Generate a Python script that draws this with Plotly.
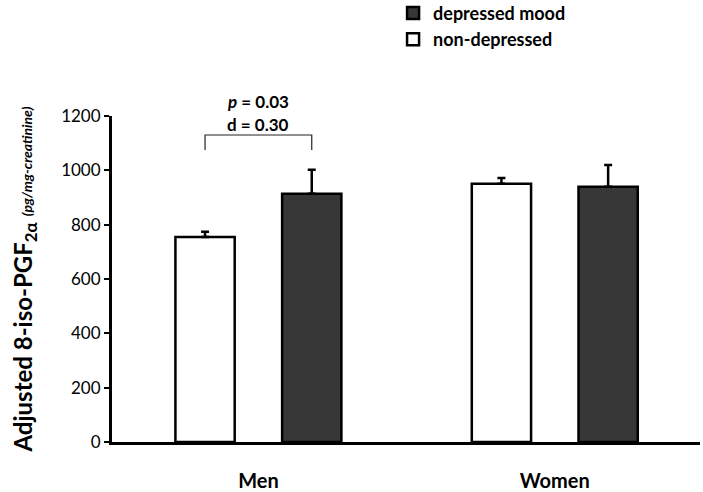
import plotly.graph_objects as go

# ---- data ----
categories = ["Men", "Women"]
series_names = ["non-depressed", "depressed mood"]
nondep_values = [755, 951]
nondep_err = [19, 21]
dep_values = [914, 940]
dep_err = [88, 80]
y_ticks = [0, 200, 400, 600, 800, 1000, 1200]
y_max = 1200
bracket_y = [1075, 1130]
stat_text = ["<b><i>p</i> = 0.03</b>", "<b>d = 0.30</b>"]
stat_y = [1255, 1170]

FONT = "Lato"
BAR_W = 0.2
BAR_SHIFT = 0.18

fig = go.Figure()
fig.add_trace(go.Bar(
    x=categories, y=nondep_values, name=series_names[0],
    width=BAR_W, offset=-BAR_SHIFT - BAR_W / 2,
    marker=dict(color="white", line=dict(color="black", width=2.5)),
    error_y=dict(type="data", array=nondep_err, arrayminus=[0, 0], symmetric=False,
                 color="black", thickness=2.5, width=4),
))
fig.add_trace(go.Bar(
    x=categories, y=dep_values, name=series_names[1],
    width=BAR_W, offset=BAR_SHIFT - BAR_W / 2,
    marker=dict(color="#373737", line=dict(color="black", width=2.5)),
    error_y=dict(type="data", array=dep_err, arrayminus=[0, 0], symmetric=False,
                 color="black", thickness=2.5, width=4),
))

# significance bracket between the two Men bars
fig.add_shape(type="path", xref="x", yref="y",
              path=f"M {-BAR_SHIFT},{bracket_y[0]} L {-BAR_SHIFT},{bracket_y[1]} "
                   f"L {BAR_SHIFT},{bracket_y[1]} L {BAR_SHIFT},{bracket_y[0]}",
              line=dict(color="#222222", width=1.2))
for t, yv in zip(stat_text, stat_y):
    fig.add_annotation(x=0, y=yv / y_max, xref="x", yref="paper", text=t, showarrow=False,
                       font=dict(family=FONT, size=17, color="black"),
                       xanchor="center", yanchor="middle")

fig.update_layout(
    width=703, height=492,
    margin=dict(l=112, r=3, t=116, b=50, autoexpand=False),
    paper_bgcolor="white", plot_bgcolor="white",
    barmode="overlay",
    showlegend=True,
    legend=dict(x=0.478, y=1.372, xanchor="left", yanchor="top",
                traceorder="reversed",
                font=dict(family=FONT, size=18, color="black", weight="bold"),
                bgcolor="rgba(0,0,0,0)", itemwidth=30, tracegroupgap=0),
    font=dict(family=FONT, color="black"),
)

fig.update_xaxes(
    type="category", range=[-0.494, 1.49],
    showline=True, linecolor="black", linewidth=3,
    ticks="", showgrid=False, zeroline=False,
    tickfont=dict(family=FONT, size=20, color="black", weight="bold"),
    ticklabelstandoff=19, automargin=False,
)
fig.update_yaxes(
    range=[0, y_max], tickvals=y_ticks,
    showline=True, linecolor="black", linewidth=3,
    ticks="outside", ticklen=5, tickwidth=2, tickcolor="black",
    showgrid=False, zeroline=False,
    tickfont=dict(family=FONT, size=17, color="black"),
    automargin=False,
    title=dict(
        text="<b>Adjusted 8-iso-PGF<sub>2α</sub></b> <span style='font-size:14px'><b><i>(pg/mg-creatinine)</i></b></span>",
        font=dict(family=FONT, size=24, color="black"),
        standoff=22,
    ),
)

fig.write_html("out.html", config={"displayModeBar": False},
               post_script="document.body.style.margin='0';")
